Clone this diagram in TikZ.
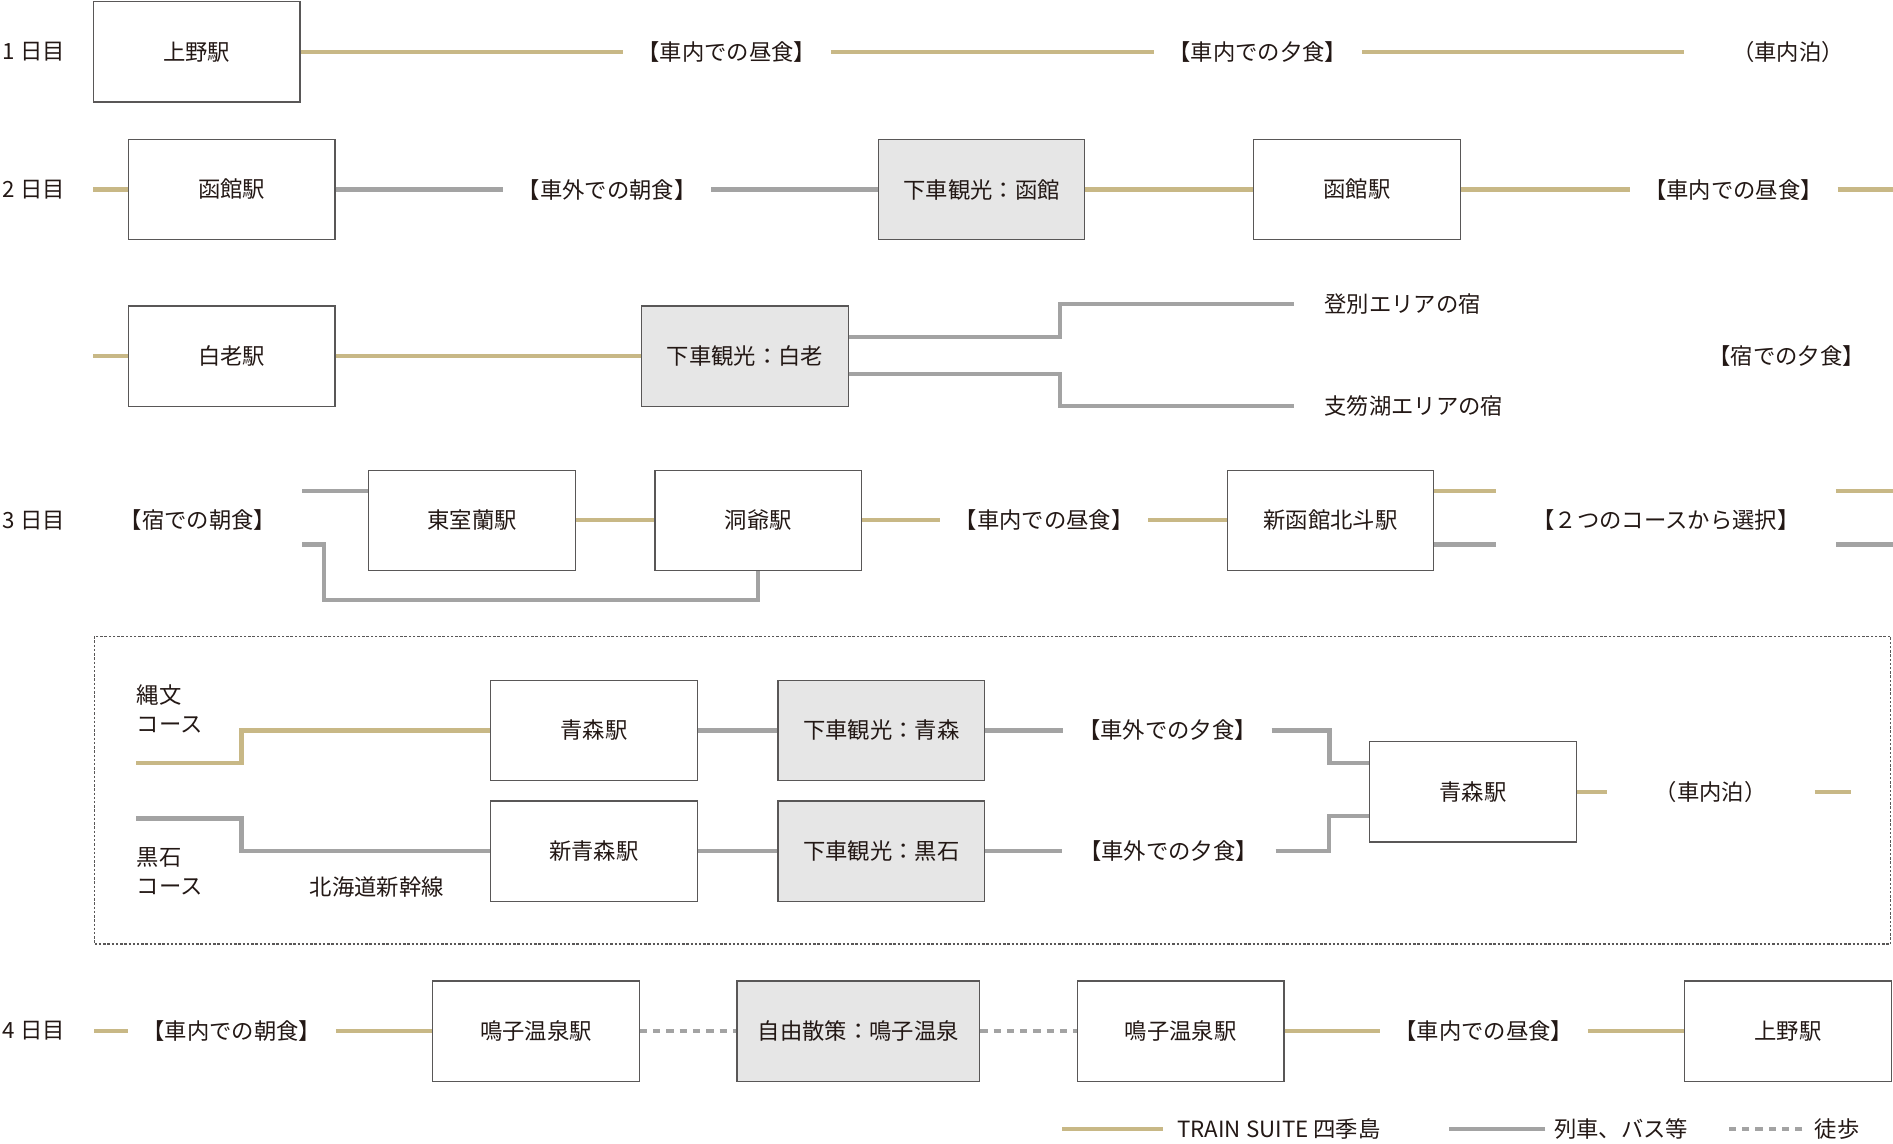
\documentclass[tikz,border=0pt]{standalone}
\usepackage{fontspec}
\setmainfont{Noto Sans CJK JP}
\usepackage{tikz}
\usetikzlibrary{positioning}
\usepackage{xcolor}
\definecolor{tsgold}{HTML}{C8B886}
\definecolor{railgray}{HTML}{A3A3A3}
\definecolor{spotfill}{HTML}{E6E6E6}
\definecolor{inkbrown}{HTML}{231815}
\definecolor{boxline}{HTML}{595757}
\tikzset{
  station/.style={draw=boxline, line width=1pt, minimum width=171pt, minimum height=83pt, inner sep=0pt},
  spot/.style={station, fill=spotfill},
  slot/.style={minimum width=172pt, minimum height=20pt, inner sep=0pt},
  tsl/.style={draw=tsgold, line width=3.5pt},
  rail/.style={draw=railgray, line width=3.5pt},
  walk/.style={draw=railgray, line width=3.5pt, dash pattern=on 6pt off 5pt},
  plain/.style={anchor=west, inner sep=0pt, align=left}
}

\begin{document}
\begin{tikzpicture}[x=1pt, y=-1pt, font=\fontsize{18.5}{24}\selectfont, text=inkbrown]
       \useasboundingbox (0,0) rectangle (1568,947);

       \node (d1) at (28,  43) {1 日目};
       \node (d2) at (28, 157) {2 日目};
       \node (d3) at (28, 431) {3 日目};
       \node (d4) at (28, 854) {4 日目};

       \node[station] (ueno1)   at ( 163, 43) {上野駅};
       \node[slot]    (lunch1)  at ( 602, 43) {【車内での昼食】};
       \node[slot]    (dinner1) at (1042, 43) {【車内での夕食】};
       \node[slot]    (night1)  at (1481, 43) {（車内泊）};
       \draw[tsl] (ueno1) -- (lunch1) -- (dinner1) -- (night1);

       \node[station] (hako1)  at ( 192, 157) {函館駅};
       \node[slot]    (asa2)   at ( 503, 157) {【車外での朝食】};
       \node[spot]    (kanko1) at ( 813, 157) {下車観光：函館};
       \node[station] (hako2)  at (1124, 157) {函館駅};
       \node[slot]    (lunch2) at (1436, 157) {【車内での昼食】};
       \draw[tsl] (hako1.west) -- ++(-29,0);
       \draw[rail] (hako1) -- (asa2) -- (kanko1);
       \draw[tsl] (kanko1) -- (hako2) -- (lunch2);
       \draw[tsl] (lunch2.east) -- ++(46,0);

       \node[station] (shiraoi)  at ( 192, 295) {白老駅};
       \node[spot]    (kanko2)   at ( 617, 295) {下車観光：白老};
       \node[plain]   (nobori)   at (1097, 252) {登別エリアの宿};
       \node[plain]   (shikotsu) at (1097, 336) {支笏湖エリアの宿};
       \node          (yudo2)    at (1480, 295) {【宿での夕食】};
       \draw[tsl] (shiraoi.west) -- ++(-29,0);
       \draw[tsl] (shiraoi) -- (kanko2);
       \draw[rail, shorten >=25pt] ([yshift=16pt]kanko2.east) -- ++(175,0) |- (nobori.west);
       \draw[rail, shorten >=25pt] ([yshift=-15pt]kanko2.east) -- ++(175,0) |- (shikotsu.west);

       \node[slot]    (asa3)    at ( 164, 431) {【宿での朝食】};
       \node[station] (higashi) at ( 391, 431) {東室蘭駅};
       \node[station] (toya)    at ( 628, 431) {洞爺駅};
       \node[slot]    (lunch3)  at ( 865, 431) {【車内での昼食】};
       \node[station] (hokuto)  at (1102, 431) {新函館北斗駅};
       \node[slot, minimum width=281pt] (choice) at (1380, 431) {【２つのコースから選択】};
       \draw[rail] ([yshift=24pt]asa3.east) -- ([yshift=24pt]higashi.west);
       \draw[rail] ([yshift=-20pt]asa3.east) -- ++(18,0) |- ([yshift=-24pt]toya.south) -- (toya.south);
       \draw[tsl] (higashi) -- (toya) -- (lunch3) -- (hokuto);
       \draw[tsl] ([yshift=24pt]hokuto.east) -- ([yshift=24pt]choice.west);
       \draw[rail] ([yshift=-20pt]hokuto.east) -- ([yshift=-20pt]choice.west);
       \draw[tsl] ([yshift=24pt]choice.east) -- ++(47,0);
       \draw[rail] ([yshift=-20pt]choice.east) -- ++(47,0);

       \draw[boxline, line width=1pt, dash pattern=on 2pt off 1.5pt] (78,527) rectangle (1566,782);

       \node[plain] (jomon) at (113, 587) {縄文\\コース};
       \coordinate (jstart) at (113, 632);
       \node[station] (aomori1) at (492, 605) {青森駅};
       \node[spot]    (kanko3)  at (730, 605) {下車観光：青森};
       \node[slot]    (yudo3)   at (967, 605) {【車外での夕食】};
       \draw[tsl] (jstart) -- ++(87,0) |- (aomori1.west);
       \draw[rail] (aomori1) -- (kanko3) -- (yudo3);

       \node[plain] (kuro) at (113, 722) {黒石\\コース};
       \node (shinkansen) at (312, 735) {北海道新幹線};
       \coordinate (kstart) at (113, 678);
       \node[station] (shinaomori) at (492, 705) {新青森駅};
       \node[spot]    (kanko4)     at (730, 705) {下車観光：黒石};
       \node[slot, minimum width=177pt] (yudo4) at (968, 705) {【車外での夕食】};
       \draw[rail] (kstart) -- ++(87,0) |- (shinaomori.west);
       \draw[rail] (shinaomori) -- (kanko4) -- (yudo4);

       \node[station] (aomori2) at (1220, 656) {青森駅};
       \node[slot]    (night3)  at (1417, 656) {（車内泊）};
       \draw[rail] (yudo3.east) -- ++(48,0) |- ([yshift=24pt]aomori2.west);
       \draw[rail] (yudo4.east) -- ++(44,0) |- ([yshift=-20pt]aomori2.west);
       \draw[tsl] (aomori2) -- (night3);
       \draw[tsl] (night3.east) -- ++(30,0);

       \node[slot]    (asa4)    at ( 192, 854) {【車内での朝食】};
       \node[station] (naruko1) at ( 444, 854) {鳴子温泉駅};
       \node[spot, minimum width=201pt] (sanpo) at (711, 854) {自由散策：鳴子温泉};
       \node[station] (naruko2) at ( 978, 854) {鳴子温泉駅};
       \node[slot]    (lunch4)  at (1229, 854) {【車内での昼食】};
       \node[station] (ueno2)   at (1481, 854) {上野駅};
       \draw[tsl] (asa4.west) -- ++(-28,0);
       \draw[tsl] (asa4) -- (naruko1);
       \draw[walk] (naruko1) -- (sanpo) -- (naruko2);
       \draw[tsl] (naruko2) -- (lunch4) -- (ueno2);

       \node[plain] (legts)   at ( 975, 935) {TRAIN SUITE 四季島};
       \node[plain] (legrail) at (1287, 935) {列車、バス等};
       \node[plain] (legwalk) at (1503, 935) {徒歩};
       \draw[tsl] ([xshift=-12pt]legts.west) -- ++(-83,0);
       \draw[rail] ([xshift=-7pt]legrail.west) -- ++(-80,0);
       \draw[walk] ([xshift=-10pt]legwalk.west) -- ++(-61,0);
\end{tikzpicture}
\end{document}
